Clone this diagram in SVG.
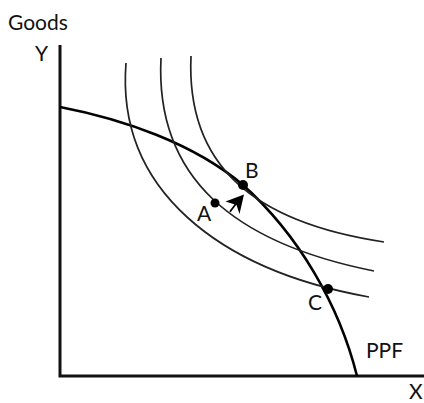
<svg xmlns="http://www.w3.org/2000/svg" width="424" height="403" viewBox="0 0 424 403">
<style>
.lbl{font-family:Lato,"Open Sans","Liberation Sans",sans-serif;font-size:21px;fill:#111}
.axis{stroke:#111;stroke-width:3;fill:none}
.ppf{stroke:#000;stroke-width:2.6;fill:none}
.ic{stroke:#222;stroke-width:1.7;fill:none}
.dot{fill:#000}
</style>
<rect width="424" height="403" fill="#fff"/>
<g id="axes">
<path class="axis" d="M60,45 V376 H424"/>
<text class="lbl" x="8" y="30">Goods</text>
<text class="lbl" x="35" y="61">Y</text>
<text class="lbl" x="409" y="399">X</text>
</g>
<g id="connectors">
<path id="ppf" class="ppf" d="M60,107 C122,119 193.5,143 243,185 C298,234.5 339,304 357,376"/>
<path id="ic1" class="ic" d="M126,63 C116,190 219,270 369,297"/>
<path id="ic2" class="ic" d="M161,58 C155,178 234,243 374,271"/>
<path id="ic3" class="ic" d="M191,56 C186,166 254,222.5 384,242"/>
<g id="arrow">
<path d="M230,211.7 L238,201" stroke="#000" stroke-width="1.8" fill="none"/>
<path d="M244,194.5 L225.5,201.5 L236.5,205 L239.5,214 Z" fill="#000"/>
</g>
</g>
<g id="ppf-label"><text class="lbl" x="366" y="358">PPF</text></g>
<g id="A"><circle class="dot" cx="215" cy="203" r="4.5"/><text class="lbl" x="197" y="221">A</text></g>
<g id="B"><circle class="dot" cx="243" cy="185" r="5"/><text class="lbl" x="245" y="178">B</text></g>
<g id="C"><circle class="dot" cx="328" cy="289" r="5"/><text class="lbl" x="308" y="310">C</text></g>
</svg>
